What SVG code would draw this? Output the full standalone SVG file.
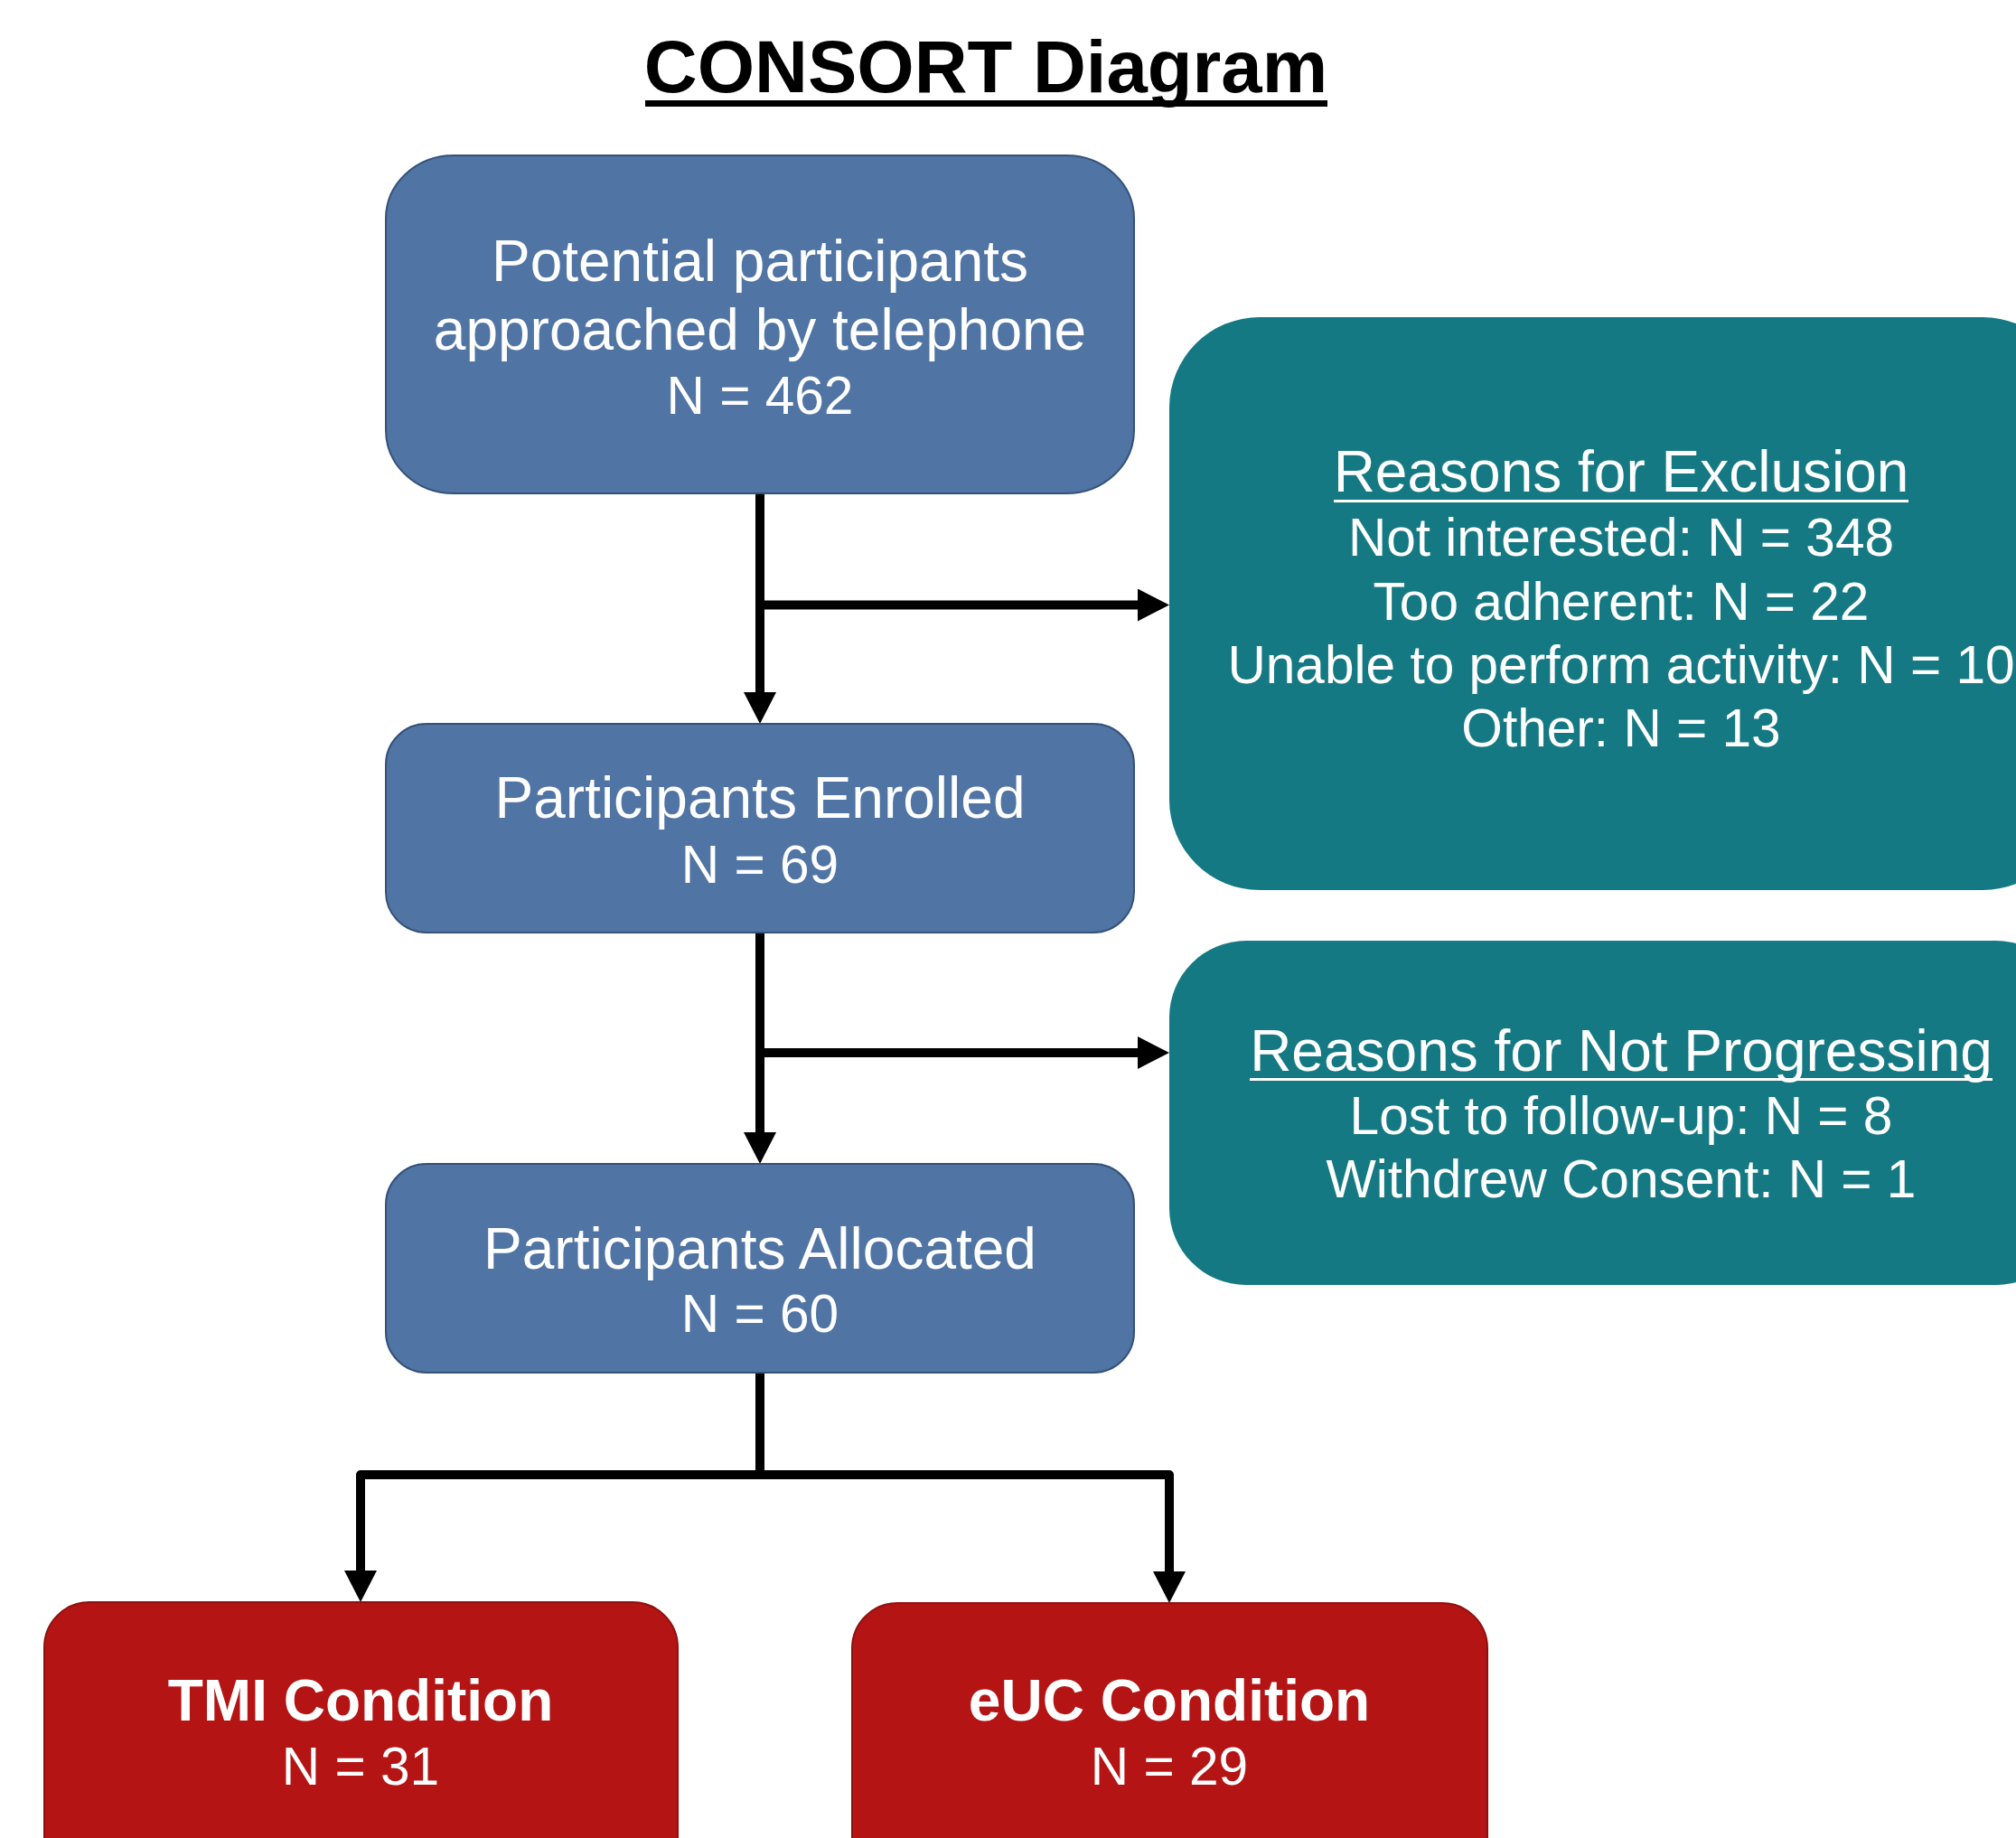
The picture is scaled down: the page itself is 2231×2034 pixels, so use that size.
<svg xmlns="http://www.w3.org/2000/svg" width="2231" height="2034" viewBox="0 0 2231 2034">
  <defs>
    <marker id="arr" markerUnits="userSpaceOnUse" markerWidth="36" markerHeight="36" viewBox="0 0 35 36" refX="0" refY="18" orient="auto">
      <path d="M0,0 L35,18 L0,36 z" fill="#000"/>
    </marker>
    <style>
      text { font-family: "Liberation Sans", Arial, sans-serif; fill: #ffffff; text-anchor: middle; }
      .title { fill: #000000; font-weight: bold; font-size: 81.5px; }
      .h { font-size: 64px; }
      .s { font-size: 58.6px; }
      .b { font-size: 64px; font-weight: bold; }
      .blue { fill: #5074A3; stroke: #34527A; stroke-width: 2; }
      .teal { fill: #157983; }
      .red { fill: #B41414; stroke: #8E1010; stroke-width: 2; }
      .conn { fill: none; stroke: #000; stroke-width: 10; stroke-linejoin: round; }
    </style>
  </defs>
  <rect width="2231" height="2034" fill="#ffffff"/>

  <g id="title">
    <text class="title" x="1091" y="102">CONSORT Diagram</text>
    <rect x="714" y="111" width="755" height="7" fill="#000"/>
  </g>

  <g id="connectors">
    <path class="conn" d="M841,546 V766" marker-end="url(#arr)"/>
    <path class="conn" d="M841,669.5 H1259" marker-end="url(#arr)"/>
    <path class="conn" d="M841,1032 V1253" marker-end="url(#arr)"/>
    <path class="conn" d="M841,1165 H1259" marker-end="url(#arr)"/>
    <path class="conn" d="M841,1519 V1632 H399 V1738" marker-end="url(#arr)" stroke-width="11"/>
    <path class="conn" d="M841,1632 H1294 V1739" marker-end="url(#arr)" stroke-width="11"/>
  </g>

  <g id="node-potential">
    <rect class="blue" x="427" y="172" width="828" height="374" rx="75" ry="70"/>
    <text class="h" x="841" y="311">Potential participants</text>
    <text class="h" x="841" y="387">approached by telephone</text>
    <text class="s" x="841" y="458">N = 462</text>
  </g>

  <g id="node-exclusion">
    <rect class="teal" x="1294" y="351" width="1000" height="634" rx="100"/>
    <text class="h" x="1794" y="544">Reasons for Exclusion</text>
    <rect x="1476" y="553" width="636" height="3" fill="#ffffff"/>
    <text class="s" x="1794" y="615">Not interested: N = 348</text>
    <text class="s" x="1794" y="686">Too adherent: N = 22</text>
    <text class="s" x="1794" y="756">Unable to perform activity: N = 10</text>
    <text class="s" x="1794" y="826">Other: N = 13</text>
  </g>

  <g id="node-enrolled">
    <rect class="blue" x="427" y="801" width="828" height="231" rx="45"/>
    <text class="h" x="841" y="905">Participants Enrolled</text>
    <text class="s" x="841" y="977">N = 69</text>
  </g>

  <g id="node-not-progressing">
    <rect class="teal" x="1294" y="1041" width="1000" height="381" rx="85"/>
    <text class="h" x="1794" y="1185">Reasons for Not Progressing</text>
    <rect x="1383" y="1193" width="822" height="3" fill="#ffffff"/>
    <text class="s" x="1794" y="1255">Lost to follow-up: N = 8</text>
    <text class="s" x="1794" y="1325">Withdrew Consent: N = 1</text>
  </g>

  <g id="node-allocated">
    <rect class="blue" x="427" y="1288" width="828" height="231" rx="45"/>
    <text class="h" x="841" y="1404">Participants Allocated</text>
    <text class="s" x="841" y="1474">N = 60</text>
  </g>

  <g id="node-tmi">
    <rect class="red" x="49" y="1773" width="701" height="320" rx="50"/>
    <text class="b" x="399" y="1904">TMI Condition</text>
    <text class="s" x="399" y="1975">N = 31</text>
  </g>

  <g id="node-euc">
    <rect class="red" x="943" y="1774" width="703" height="320" rx="50"/>
    <text class="b" x="1294" y="1904">eUC Condition</text>
    <text class="s" x="1294" y="1975">N = 29</text>
  </g>
</svg>
